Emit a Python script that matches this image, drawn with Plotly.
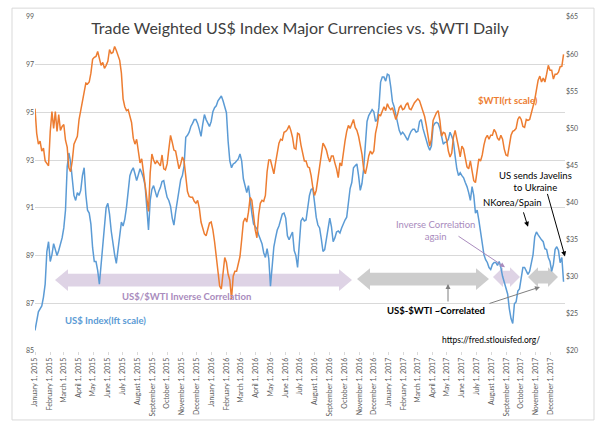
import pandas as pd
import plotly.graph_objects as go

# ---- data (semi-weekly readings from the picture) ----
dates = pd.date_range("2015-01-01", periods=313, freq="84h")

usd_index = [
    85.86, 86.27, 86.64, 86.77, 86.89, 87.26, 87.80, 89.17, 89.58, 88.75,
    89.04, 89.50, 89.25, 89.00, 89.21, 89.45, 89.74, 90.16, 90.90, 92.72,
    93.30, 92.93, 92.14, 91.52, 91.31, 91.64, 91.52, 91.73, 92.35, 92.68,
    91.56, 90.90, 90.78, 90.32, 89.33, 88.75, 88.75, 88.38, 87.80, 88.63,
    89.45, 90.45, 91.02, 91.19, 90.74, 90.03, 89.45, 89.04, 88.67, 89.29,
    89.99, 90.40, 90.24, 90.53, 91.02, 91.60, 92.35, 92.55, 92.68, 92.43,
    92.14, 92.39, 92.64, 92.47, 92.26, 91.93, 91.11, 90.07, 91.31, 91.77,
    91.93, 91.69, 91.44, 91.69, 91.85, 92.10, 92.14, 91.77, 91.44, 91.31,
    91.07, 90.57, 90.28, 90.82, 91.31, 91.81, 92.18, 92.35, 92.76, 93.96,
    94.04, 94.17, 94.41, 94.54, 94.70, 94.70, 94.54, 94.29, 94.00, 94.50,
    94.91, 94.70, 94.54, 94.41, 94.62, 95.03, 95.20, 95.28, 95.49, 95.61,
    95.69, 95.49, 95.20, 94.99, 93.79, 92.97, 92.68, 92.84, 92.88, 92.97,
    93.05, 93.26, 92.97, 92.22, 91.93, 91.64, 91.93, 91.19, 90.78, 90.32,
    90.24, 90.12, 89.87, 89.66, 89.50, 89.12, 88.92, 89.29, 88.87, 87.72,
    88.55, 89.37, 89.74, 90.07, 90.24, 90.45, 90.74, 90.78, 90.57, 89.83,
    89.66, 89.83, 89.99, 89.21, 89.00, 88.50, 89.66, 90.45, 90.57, 90.45,
    90.49, 91.02, 91.52, 91.77, 91.81, 91.23, 90.61, 90.28, 90.16, 89.70,
    89.17, 89.25, 89.74, 90.24, 90.57, 90.20, 89.58, 89.74, 89.99, 90.03,
    89.95, 90.16, 90.36, 90.49, 90.61, 91.36, 91.81, 92.06, 92.68, 92.76,
    92.84, 92.35, 91.73, 92.02, 92.64, 93.63, 94.62, 94.87, 95.03, 95.12,
    95.03, 94.62, 94.70, 95.20, 96.27, 96.48, 96.48, 96.31, 96.60, 96.56,
    96.07, 95.45, 95.24, 94.87, 94.50, 94.25, 94.08, 94.17, 94.08, 93.96,
    93.83, 94.04, 94.21, 94.29, 94.29, 94.17, 94.21, 94.62, 94.70, 94.33,
    94.04, 93.79, 93.59, 93.42, 93.59, 94.41, 94.54, 94.58, 94.54, 94.33,
    94.04, 93.67, 93.75, 93.75, 93.88, 94.17, 94.00, 93.79, 93.17, 92.64,
    92.35, 92.47, 92.35, 92.26, 92.06, 91.89, 91.64, 91.31, 91.89, 91.52,
    90.78, 90.90, 90.49, 89.99, 89.37, 89.04, 88.83, 88.71, 88.50, 88.42,
    88.63, 88.71, 88.71, 88.59, 88.75, 88.50, 88.13, 87.88, 87.60, 87.39,
    86.77, 86.36, 86.15, 86.98, 87.06, 87.51, 87.60, 88.09, 88.50, 88.50,
    88.34, 88.21, 88.34, 88.67, 89.04, 89.79, 89.99, 89.87, 89.74, 89.66,
    89.58, 89.29, 89.25, 88.92, 88.75, 88.34, 88.63, 89.25, 89.37, 89.21,
    88.70, 88.92, 87.90]

wti_price = [
    52.65, 49.33, 47.87, 48.27, 46.94, 47.34, 45.61, 45.21, 44.95, 49.59,
    52.25, 49.99, 52.25, 49.59, 51.85, 49.73, 50.26, 50.52, 48.40, 47.47,
    44.68, 44.15, 45.61, 47.87, 48.53, 48.93, 51.19, 52.52, 53.71, 55.17,
    56.10, 55.97, 56.24, 57.43, 59.29, 59.56, 59.69, 60.35, 59.29, 58.49,
    58.89, 58.09, 58.49, 59.02, 60.62, 60.09, 60.22, 61.02, 60.48, 59.69,
    59.16, 57.43, 53.98, 52.91, 52.38, 52.52, 51.45, 50.79, 48.67, 47.87,
    48.53, 46.67, 45.35, 45.88, 44.02, 42.95, 41.10, 38.80, 44.02, 46.54,
    45.74, 45.21, 45.61, 45.35, 44.95, 46.41, 44.55, 44.42, 45.21, 47.20,
    49.06, 48.13, 47.07, 46.94, 45.74, 44.55, 45.21, 46.14, 45.61, 43.22,
    41.49, 40.83, 40.70, 40.70, 40.17, 39.90, 40.30, 39.24, 37.38, 36.58,
    35.78, 35.52, 36.58, 37.24, 37.38, 36.31, 34.72, 32.86, 31.00, 28.75,
    28.35, 31.00, 32.60, 31.93, 30.34, 29.54, 27.02, 30.07, 30.74, 30.74,
    31.67, 32.73, 34.99, 37.38, 37.91, 37.38, 38.71, 40.70, 40.30, 37.78,
    36.31, 35.25, 38.31, 39.90, 40.30, 40.17, 40.96, 44.15, 45.74, 45.74,
    44.95, 43.88, 45.35, 46.94, 48.00, 48.53, 48.40, 49.46, 49.59, 49.86,
    50.39, 49.73, 48.80, 47.34, 47.20, 49.33, 49.20, 47.74, 46.54, 45.61,
    45.61, 44.81, 44.68, 43.62, 42.03, 40.96, 41.63, 43.09, 44.55, 46.01,
    48.00, 47.60, 47.07, 46.14, 45.48, 46.28, 46.28, 45.35, 44.55, 43.35,
    45.35, 44.95, 46.94, 48.27, 49.59, 50.39, 49.99, 50.66, 51.19, 50.13,
    49.73, 48.93, 47.87, 46.54, 44.55, 43.88, 44.95, 46.28, 46.94, 46.54,
    46.94, 49.33, 50.39, 51.85, 51.72, 52.25, 52.91, 52.38, 53.31, 52.78,
    52.52, 52.78, 51.99, 51.19, 51.85, 52.78, 53.05, 52.52, 52.65, 53.18,
    53.45, 52.65, 52.52, 53.05, 53.45, 53.71, 53.98, 53.71, 53.05, 52.52,
    51.59, 50.39, 48.93, 47.60, 48.53, 51.06, 51.59, 52.12, 52.38, 51.06,
    48.93, 49.46, 49.33, 48.40, 46.94, 46.14, 46.67, 48.80, 49.73, 48.80,
    47.47, 46.14, 47.60, 47.20, 45.88, 44.81, 44.55, 45.61, 44.28, 42.95,
    42.69, 44.55, 45.88, 45.61, 46.41, 47.74, 48.67, 49.06, 48.53, 49.06,
    49.06, 49.86, 49.46, 48.67, 48.40, 49.06, 48.53, 47.20, 46.41, 46.28,
    48.00, 49.06, 49.59, 49.73, 49.99, 51.19, 51.59, 51.19, 50.26, 50.13,
    51.19, 51.06, 51.19, 51.99, 53.05, 53.84, 55.17, 56.50, 57.03, 56.24,
    56.77, 56.24, 57.30, 58.49, 57.83, 57.83, 56.63, 57.30, 57.30, 57.56,
    58.30, 58.36, 59.95]

left_ticks = [85, 87, 89, 91, 93, 95, 97, 99]
right_ticks = [20, 25, 30, 35, 40, 45, 50, 55, 60, 65]

TITLE = "Trade Weighted US$ Index Major Currencies vs. $WTI Daily"

# ---- layout geometry ----
W, H = 604, 429
PL, PR, PT, PB = 35, 565, 14, 353   # plot area in px
FONT = "Lato, 'Open Sans', sans-serif"
BLUE, ORANGE = "#5b9bd5", "#ed7d31"
PURPLE_FILL, GRAY_FILL = "#d8cbe0", "#c4c4c4"
PURPLE_TXT = "#a98bbd"


def dx(px):
    return (px - PL) / (PR - PL)


def dy(py):
    return (PB - py) / (PB - PT)


fig = go.Figure()
fig.add_trace(go.Scatter(x=dates, y=usd_index, mode="lines", yaxis="y",
                         line=dict(color=BLUE, width=1.5), name="US$ Index"))
fig.add_trace(go.Scatter(x=dates, y=wti_price, mode="lines", yaxis="y2",
                         line=dict(color=ORANGE, width=1.5), name="$WTI"))


def double_arrow(x0, x1, yc, color, h=6.5, hh=11, L=13, opacity=0.85):
    pts = [(x0, yc), (x0 + L, yc - hh), (x0 + L, yc - h), (x1 - L, yc - h),
           (x1 - L, yc - hh), (x1, yc), (x1 - L, yc + hh), (x1 - L, yc + h),
           (x0 + L, yc + h), (x0 + L, yc + hh)]
    path = "M " + " L ".join(f"{dx(a):.5f},{dy(b):.5f}" for a, b in pts) + " Z"
    fig.add_shape(type="path", path=path, xref="x domain", yref="y domain",
                  fillcolor=color, line=dict(width=0), opacity=opacity, layer="below")


double_arrow(55, 352, 281, PURPLE_FILL)
double_arrow(357, 489, 280, GRAY_FILL)
double_arrow(493, 520, 278, PURPLE_FILL, hh=10, L=10)
double_arrow(528, 558, 278, GRAY_FILL, hh=10, L=10)

# outer frame
fig.add_shape(type="rect", xref="paper", yref="paper",
              x0=dx(12), x1=dx(594), y0=dy(423), y1=dy(5),
              line=dict(color="#d9d9d9", width=1), fillcolor="rgba(0,0,0,0)")


def text(px, py, s, color="#000000", size=9, bold=False):
    fig.add_annotation(x=dx(px), y=dy(py), xref="x domain", yref="y domain",
                       text=f"<b>{s}</b>" if bold else s, showarrow=False,
                       font=dict(family=FONT, size=size, color=color),
                       xanchor="center", yanchor="middle")


def arrow(hx, hy, tx, ty, color):
    fig.add_annotation(x=dx(hx), y=dy(hy), xref="x domain", yref="y domain",
                       ax=tx - hx, ay=ty - hy, axref="pixel", ayref="pixel",
                       text="", showarrow=True, arrowhead=2, arrowsize=1,
                       arrowwidth=1, arrowcolor=color)


text(186, 298, "US$/$WTI Inverse Correlation", PURPLE_TXT, 9.5, True)
text(105, 322, "US$ Index(lft scale)", BLUE, 9.5, True)
text(508, 99, "$WTI(rt scale)", ORANGE, 9.5, True)
text(435, 231, "Inverse Correlation<br>again", PURPLE_TXT, 9.5)
text(436, 312, "US$-$WTI ~Correlated", "#000000", 9.5, True)
text(512, 202, "NKorea/Spain", "#000000", 9.5)
text(535, 181, "US sends Javelins<br>to Ukraine", "#000000", 9.5)
text(491, 342, "https://fred.stlouisfed.org/", "#000000", 8.5)

arrow(505, 268, 457, 236, "#a98bbd")
arrow(448, 285, 448, 304, "#7f7f7f")
arrow(540, 288, 488, 305, "#7f7f7f")
arrow(528, 227, 523, 211, "#000000")
arrow(565, 257, 547, 193, "#000000")

fig.update_layout(
    width=W, height=H,
    margin=dict(l=PL, r=W - PR, t=PT, b=H - PB),
    paper_bgcolor="white", plot_bgcolor="white",
    showlegend=False,
    font=dict(family=FONT, color="#595959"),
    title=dict(text=TITLE, x=302 / W, xanchor="center", xref="paper",
               y=1 - 28 / H, yanchor="middle", yref="container",
               font=dict(family=FONT, size=16, color="#404040")),
    xaxis=dict(type="date", range=["2015-01-01", "2017-12-31"],
               tick0="2015-01-01", dtick="M1", tickformat="%B %-d, %Y",
               tickangle=-90, tickfont=dict(size=7, color="#595959"),
               ticks="outside", ticklen=3, tickcolor="#d9d9d9",
               showgrid=False, showline=False, zeroline=False),
    yaxis=dict(range=[85, 99], tickvals=left_ticks,
               tickfont=dict(size=7, color="#595959"),
               showgrid=True, gridcolor="#d9d9d9", gridwidth=1,
               zeroline=False, showline=False, ticks=""),
    yaxis2=dict(range=[20, 65], tickvals=right_ticks,
                ticktext=[f"${v}" for v in right_ticks],
                overlaying="y", side="right",
                tickfont=dict(size=7, color="#595959"),
                showgrid=False, zeroline=False, showline=False, ticks=""),
)

fig.write_html("out.html")
